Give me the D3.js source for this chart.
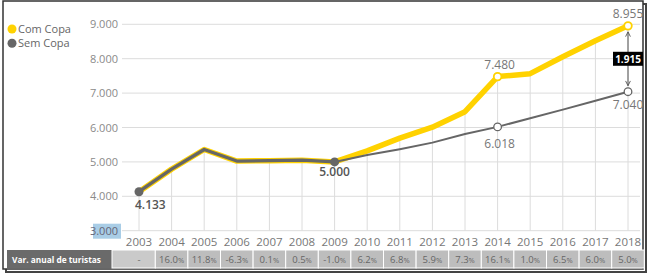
<!DOCTYPE html>
<html>
<head>
<meta charset="utf-8">
<script src="https://cdn.jsdelivr.net/npm/d3@7"></script>
<style>
  body { margin: 0; background: #fff; }
  text { font-family: "Open Sans", sans-serif; }
</style>
</head>
<body>
<div id="vis"></div>
<script>
var years = [2003, 2004, 2005, 2006, 2007, 2008, 2009, 2010, 2011, 2012, 2013, 2014, 2015, 2016, 2017, 2018];
var comCopa = [4133, 4790, 5360, 5025, 5035, 5050, 5000, 5320, 5690, 6010, 6460, 7480, 7565, 8055, 8520, 8955];
var semCopa = [4133, 4790, 5360, 5025, 5035, 5050, 5000, 5200, 5370, 5560, 5810, 6018, 6270, 6520, 6780, 7040];
var varAnual = ["-", "16.0", "11.8", "-6.3", "0.1", "0.5", "-1.0", "6.2", "6.8", "5.9", "7.3", "16.1", "1.0", "6.5", "6.0", "5.0"];
var yTicks = [3000, 4000, 5000, 6000, 7000, 8000, 9000];
var seriesNames = ["Com Copa", "Sem Copa"];

var colorArray = {
    "Com Copa": "#ffd200",
    "Sem Copa": "#666666"
};

var width = 650, height = 276;

var x = d3.scaleLinear().domain([2003, 2018]).range([139, 628]);
var y = d3.scaleLinear().domain([3000, 9000]).range([230.7, 24.3]);

var fmt = function(v) { return d3.format(",")(v).replace(/,/g, "."); };

var svg = d3.select("#vis")
    .append("svg")
    .attr("width", width)
    .attr("height", height);

svg.append("defs").append("marker")
    .attr("id", "chev")
    .attr("viewBox", "0 0 10 10")
    .attr("refX", 9).attr("refY", 5)
    .attr("markerWidth", 6).attr("markerHeight", 6)
    .attr("orient", "auto-start-reverse")
    .append("path")
    .attr("d", "M1,1L9,5L1,9")
    .attr("fill", "none")
    .attr("stroke", "#555")
    .attr("stroke-width", 1.5);

// frame with a little shadow
svg.append("rect")
    .attr("x", 6).attr("y", 4).attr("width", 640).attr("height", 268)
    .attr("fill", "none").attr("stroke", "#444").attr("stroke-width", 2);
svg.append("rect")
    .attr("x", 3).attr("y", 1).attr("width", 640).attr("height", 268)
    .attr("fill", "#fff").attr("stroke", "#333").attr("stroke-width", 1.5);

// horizontal grid + y labels
svg.selectAll("line.hgrid")
    .data(yTicks)
    .enter().append("line")
    .attr("class", "hgrid")
    .attr("x1", 122).attr("x2", 640)
    .attr("y1", d => y(d)).attr("y2", d => y(d))
    .attr("stroke", "#dcdcdc").attr("stroke-width", 1);

svg.append("rect")
    .attr("x", 93).attr("y", y(3000) - 7).attr("width", 28).attr("height", 15)
    .attr("fill", "#a9cde6");

svg.selectAll("text.ylab")
    .data(yTicks)
    .enter().append("text")
    .attr("class", "ylab")
    .attr("x", 118)
    .attr("y", d => y(d) + 4)
    .attr("text-anchor", "end")
    .style("font-size", "11px")
    .style("fill", d => d == 3000 ? "#667" : "#8a8a8a")
    .text(fmt);

// drop lines from the top series down to the axis
svg.selectAll("line.vgrid")
    .data(years)
    .enter().append("line")
    .attr("class", "vgrid")
    .attr("x1", d => x(d)).attr("x2", d => x(d))
    .attr("y1", (d, i) => y(comCopa[i])).attr("y2", y(3000))
    .attr("stroke", "#dcdcdc").attr("stroke-width", 1);

// x labels
svg.selectAll("text.xlab")
    .data(years)
    .enter().append("text")
    .attr("class", "xlab")
    .attr("x", d => x(d))
    .attr("y", 246)
    .attr("text-anchor", "middle")
    .style("font-size", "11.5px")
    .style("fill", "#777")
    .text(d => d);

// lines
var line = d3.line()
    .x(d => x(d.year))
    .y(d => y(d.value));

var comData = years.map((d, i) => ({year: d, value: comCopa[i]}));
var semData = years.map((d, i) => ({year: d, value: semCopa[i]}));

svg.append("path")
    .attr("d", line(comData))
    .attr("fill", "none")
    .attr("stroke", colorArray["Com Copa"])
    .attr("stroke-width", 5.5)
    .attr("stroke-linejoin", "round");

svg.append("path")
    .attr("d", line(semData.slice(6)))
    .attr("fill", "none")
    .attr("stroke", colorArray["Sem Copa"])
    .attr("stroke-width", 2)
    .attr("stroke-linejoin", "round");

svg.append("path")
    .attr("d", line(semData.slice(0, 7)))
    .attr("fill", "none")
    .attr("stroke", colorArray["Sem Copa"])
    .attr("stroke-width", 3.3)
    .attr("stroke-linejoin", "round");

// markers
[0, 6].forEach(function(i) {
    svg.append("circle")
        .attr("cx", x(years[i])).attr("cy", y(semCopa[i])).attr("r", 4.5)
        .attr("fill", "#666");
});
[11, 15].forEach(function(i) {
    svg.append("circle")
        .attr("cx", x(years[i])).attr("cy", y(comCopa[i])).attr("r", 3.8)
        .attr("fill", "#fff").attr("stroke", colorArray["Com Copa"]).attr("stroke-width", 1.8);
    svg.append("circle")
        .attr("cx", x(years[i])).attr("cy", y(semCopa[i])).attr("r", 3.8)
        .attr("fill", "#fff").attr("stroke", "#666").attr("stroke-width", 1.3);
});

// value labels
var valueLabels = [
    {i: 0, v: semCopa[0], dx: -4, dy: 17, anchor: "start", bold: true},
    {i: 6, v: semCopa[6], dx: 0, dy: 14, anchor: "middle", bold: true},
    {i: 11, v: semCopa[11], dx: 2, dy: 21, anchor: "middle", bold: false},
    {i: 11, v: comCopa[11], dx: 2, dy: -8, anchor: "middle", bold: false},
    {i: 15, v: comCopa[15], dx: 0, dy: -8, anchor: "middle", bold: false},
    {i: 15, v: semCopa[15], dx: 0, dy: 17, anchor: "middle", bold: false}
];
svg.selectAll("text.vlab")
    .data(valueLabels)
    .enter().append("text")
    .attr("class", "vlab")
    .attr("x", d => x(years[d.i]) + d.dx)
    .attr("y", d => y(d.v) + d.dy)
    .attr("text-anchor", d => d.anchor)
    .style("font-size", "12px")
    .style("font-weight", d => d.bold ? "600" : "normal")
    .style("fill", d => d.bold ? "#555" : "#777")
    .text(d => fmt(d.v));

// difference arrow
var xd = x(2018);
svg.append("line")
    .attr("x1", xd).attr("x2", xd)
    .attr("y1", y(comCopa[15]) + 6).attr("y2", y(semCopa[15]) - 6)
    .attr("stroke", "#555").attr("stroke-width", 1)
    .attr("marker-start", "url(#chev)")
    .attr("marker-end", "url(#chev)");
var ym = (y(comCopa[15]) + y(semCopa[15])) / 2;
svg.append("rect")
    .attr("x", xd - 15).attr("y", ym - 7).attr("width", 30).attr("height", 14)
    .attr("fill", "#000");
svg.append("text")
    .attr("x", xd).attr("y", ym + 4)
    .attr("text-anchor", "middle")
    .style("font-size", "10px").style("font-weight", "bold").style("fill", "#fff")
    .text(fmt(comCopa[15] - semCopa[15]));

// legend
var legend = svg.selectAll("g.legend")
    .data(seriesNames)
    .enter().append("g")
    .attr("class", "legend")
    .attr("transform", (d, i) => "translate(12," + (29 + i * 14.3) + ")");
legend.append("circle").attr("r", 4.5).attr("fill", d => colorArray[d]);
legend.append("text")
    .attr("x", 6).attr("y", 4)
    .style("font-size", "11px").style("fill", "#666")
    .text(d => d);

// table row
var step = x(2004) - x(2003);
var rowY = 250, rowH = 18;
svg.append("rect")
    .attr("x", 7).attr("y", rowY).attr("width", 105).attr("height", rowH)
    .attr("fill", "#6a6a6a");
svg.append("text")
    .attr("x", 12).attr("y", rowY + 12.5)
    .attr("textLength", 89).attr("lengthAdjust", "spacingAndGlyphs")
    .style("font-size", "9.5px").style("font-weight", "bold").style("fill", "#fff")
    .text("Var. anual de turistas");

svg.selectAll("rect.cell")
    .data(years)
    .enter().append("rect")
    .attr("class", "cell")
    .attr("x", (d, i) => i == 0 ? 112 : x(d) - step / 2)
    .attr("y", rowY)
    .attr("width", (d, i) => i == 0 ? x(d) + step / 2 - 112 : step)
    .attr("height", rowH)
    .attr("fill", (d, i) => i == 0 ? "#cacaca" : "#bdbdbd")
    .attr("stroke", "#fff").attr("stroke-width", 1);

var cellText = svg.selectAll("text.cell")
    .data(varAnual)
    .enter().append("text")
    .attr("class", "cell")
    .attr("x", (d, i) => x(years[i]))
    .attr("y", rowY + 13)
    .attr("text-anchor", "middle")
    .style("font-size", "9.5px").style("fill", "#666");
cellText.append("tspan").text(d => d);
cellText.filter(d => d != "-").append("tspan").style("font-size", "7.5px").text("%");
</script>
</body>
</html>
